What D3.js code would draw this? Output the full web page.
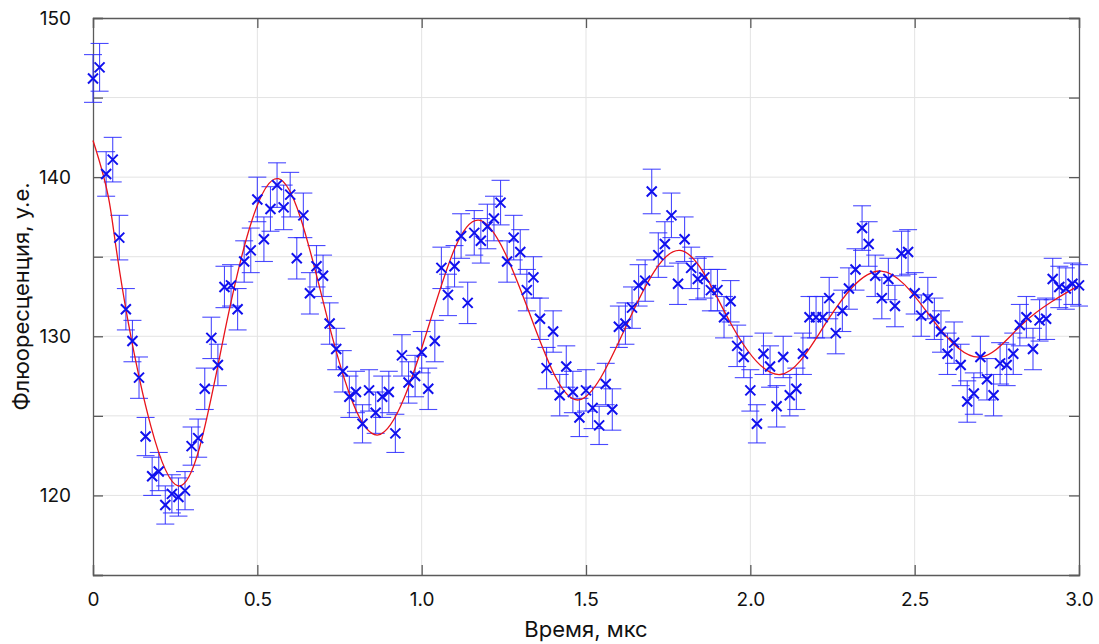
<!DOCTYPE html>
<html>
<head>
<meta charset="utf-8">
<script src="https://cdn.jsdelivr.net/npm/d3@7"></script>
<style>
  body { margin: 0; background: #fff; }
  svg { font-family: Inter, Roboto, "Noto Sans", sans-serif; }
</style>
</head>
<body>
<svg id="chart" width="1099" height="644"></svg>
<script>
// measured points (time in us, fluorescence in a.u.)
var times = [
  0.00, 0.02, 0.04, 0.06, 0.08, 0.10, 0.12, 0.14, 0.16, 0.18,
  0.20, 0.22, 0.24, 0.26, 0.28, 0.30, 0.32, 0.34, 0.36, 0.38,
  0.40, 0.42, 0.44, 0.46, 0.48, 0.50, 0.52, 0.54, 0.56, 0.58,
  0.60, 0.62, 0.64, 0.66, 0.68, 0.70, 0.72, 0.74, 0.76, 0.78,
  0.80, 0.82, 0.84, 0.86, 0.88, 0.90, 0.92, 0.94, 0.96, 0.98,
  1.00, 1.02, 1.04, 1.06, 1.08, 1.10, 1.12, 1.14, 1.16, 1.18,
  1.20, 1.22, 1.24, 1.26, 1.28, 1.30, 1.32, 1.34, 1.36, 1.38,
  1.40, 1.42, 1.44, 1.46, 1.48, 1.50, 1.52, 1.54, 1.56, 1.58,
  1.60, 1.62, 1.64, 1.66, 1.68, 1.70, 1.72, 1.74, 1.76, 1.78,
  1.80, 1.82, 1.84, 1.86, 1.88, 1.90, 1.92, 1.94, 1.96, 1.98,
  2.00, 2.02, 2.04, 2.06, 2.08, 2.10, 2.12, 2.14, 2.16, 2.18,
  2.20, 2.22, 2.24, 2.26, 2.28, 2.30, 2.32, 2.34, 2.36, 2.38,
  2.40, 2.42, 2.44, 2.46, 2.48, 2.50, 2.52, 2.54, 2.56, 2.58,
  2.60, 2.62, 2.64, 2.66, 2.68, 2.70, 2.72, 2.74, 2.76, 2.78,
  2.80, 2.82, 2.84, 2.86, 2.88, 2.90, 2.92, 2.94, 2.96, 2.98,
  3.00
];
var signal = [
  146.2, 146.9, 140.2, 141.1, 136.2, 131.7, 129.7, 127.4, 123.7, 121.2,
  121.5, 119.4, 120.1, 119.9, 120.3, 123.1, 123.6, 126.7, 129.9, 128.2,
  133.1, 133.2, 131.7, 134.7, 135.4, 138.6, 136.1, 138.0, 139.5, 138.1,
  138.9, 134.9, 137.6, 132.7, 134.4, 133.8, 130.8, 129.2, 127.8, 126.2,
  126.5, 124.5, 126.6, 125.2, 126.2, 126.5, 123.9, 128.8, 127.1, 127.5,
  129.0, 126.7, 129.7, 134.3, 132.6, 134.4, 136.3, 132.1, 136.5, 136.0,
  136.9, 137.4, 138.4, 134.7, 136.2, 135.3, 132.9, 133.7, 131.1, 128.0,
  130.3, 126.3, 128.1, 126.5, 124.9, 126.6, 125.5, 124.4, 127.0, 125.4,
  130.6, 130.8, 131.8, 133.2, 133.5, 139.1, 135.1, 135.8, 137.6, 133.3,
  136.1, 134.3, 133.6, 133.7, 132.9, 132.9, 131.2, 132.2, 129.4, 128.7,
  126.6, 124.5, 128.9, 128.1, 125.6, 128.7, 126.3, 126.7, 128.9, 131.2,
  131.2, 131.2, 132.4, 130.2, 131.6, 133.0, 134.2, 136.8, 135.8, 133.8,
  132.4, 133.6, 131.9, 135.2, 135.3, 132.7, 131.3, 132.4, 131.1, 130.3,
  128.9, 129.6, 128.2, 125.9, 126.4, 128.7, 127.3, 126.3, 128.3, 128.2,
  128.9, 130.7, 131.2, 129.2, 131.0, 131.1, 133.6, 133.1, 133.0, 133.3,
  133.2
];
var errors = [
  1.5, 1.5, 1.4, 1.4, 1.4, 1.3, 1.3, 1.3, 1.2, 1.2,
  1.2, 1.2, 1.2, 1.2, 1.2, 1.2, 1.2, 1.3, 1.3, 1.3,
  1.3, 1.3, 1.3, 1.3, 1.4, 1.4, 1.4, 1.4, 1.4, 1.4,
  1.4, 1.3, 1.4, 1.3, 1.3, 1.3, 1.3, 1.3, 1.3, 1.3,
  1.3, 1.2, 1.3, 1.3, 1.3, 1.3, 1.2, 1.3, 1.3, 1.3,
  1.3, 1.3, 1.3, 1.3, 1.3, 1.3, 1.4, 1.3, 1.4, 1.4,
  1.4, 1.4, 1.4, 1.3, 1.4, 1.4, 1.3, 1.3, 1.3, 1.3,
  1.3, 1.3, 1.3, 1.3, 1.2, 1.3, 1.3, 1.2, 1.3, 1.3,
  1.3, 1.3, 1.3, 1.3, 1.3, 1.4, 1.4, 1.4, 1.4, 1.3,
  1.4, 1.3, 1.3, 1.3, 1.3, 1.3, 1.3, 1.3, 1.3, 1.3,
  1.3, 1.2, 1.3, 1.3, 1.3, 1.3, 1.3, 1.3, 1.3, 1.3,
  1.3, 1.3, 1.3, 1.3, 1.3, 1.3, 1.3, 1.4, 1.4, 1.3,
  1.3, 1.3, 1.3, 1.4, 1.4, 1.3, 1.3, 1.3, 1.3, 1.3,
  1.3, 1.3, 1.3, 1.3, 1.3, 1.3, 1.3, 1.3, 1.3, 1.3,
  1.3, 1.3, 1.3, 1.3, 1.3, 1.3, 1.3, 1.3, 1.3, 1.3,
  1.3
];

// fitted curve, read at extrema and mid-line crossings
var fitTimes = [0, 0.05, 0.107, 0.259, 0.407, 0.564, 0.716, 0.868, 1.025, 1.174,
                1.338, 1.478, 1.628, 1.786, 1.938, 2.091, 2.232, 2.398, 2.560, 2.701,
                2.835, 3.0];
var fitValues = [142.3, 138.4, 130.9, 120.6, 130.9, 139.9, 130.9, 123.8, 130.9, 137.3,
                 130.9, 126.0, 130.9, 135.4, 130.9, 127.6, 130.9, 134.1, 130.9, 128.7,
                 130.9, 133.2];

var xTicks = [0, 0.5, 1.0, 1.5, 2.0, 2.5, 3.0];
var yGrid = [115, 120, 125, 130, 135, 140, 145, 150];
var yLabels = [120, 130, 140, 150];

var svg = d3.select("#chart");
var plotLeft = 93, plotRight = 1079, plotTop = 18, plotBottom = 575;

var x = d3.scaleLinear().domain([0, 3]).range([plotLeft, plotRight]);
var y = d3.scaleLinear().domain([115, 150]).range([plotBottom, plotTop]);

// grid
var grid = svg.append("g").attr("class", "grid");
grid.selectAll("line.vx")
    .data(xTicks.slice(1, -1))
    .enter().append("line")
    .attr("x1", function(d) { return x(d); }).attr("x2", function(d) { return x(d); })
    .attr("y1", plotTop).attr("y2", plotBottom)
    .attr("stroke", "#e3e3e3").attr("stroke-width", 1);
grid.selectAll("line.hy")
    .data(yGrid.slice(1, -1))
    .enter().append("line")
    .attr("x1", plotLeft).attr("x2", plotRight)
    .attr("y1", function(d) { return y(d); }).attr("y2", function(d) { return y(d); })
    .attr("stroke", "#e3e3e3").attr("stroke-width", 1);

// axes with inward ticks on all four sides
var fmtX = function(d) { return d === 0 ? "0" : d3.format(".1f")(d); };
var tickLen = 10;

var xBottom = svg.append("g").attr("transform", "translate(0," + plotBottom + ")")
    .call(d3.axisBottom(x).tickValues(xTicks).tickSize(-tickLen).tickPadding(tickLen + 8).tickFormat(fmtX));
var xTop = svg.append("g").attr("transform", "translate(0," + plotTop + ")")
    .call(d3.axisTop(x).tickValues(xTicks).tickSize(-tickLen).tickFormat(""));
var yLeft = svg.append("g").attr("transform", "translate(" + plotLeft + ",0)")
    .call(d3.axisLeft(y).tickValues(yGrid).tickSize(-tickLen).tickPadding(tickLen + 12)
        .tickFormat(function(d) { return yLabels.indexOf(d) >= 0 ? d : ""; }));
var yRight = svg.append("g").attr("transform", "translate(" + plotRight + ",0)")
    .call(d3.axisRight(y).tickValues(yGrid).tickSize(-tickLen).tickFormat(""));

[xBottom, xTop, yLeft, yRight].forEach(function(g) {
    g.select(".domain").attr("stroke", "#5a5a5a").attr("stroke-width", 1.3);
    g.selectAll(".tick line").attr("stroke", "#5a5a5a").attr("stroke-width", 1.3);
    g.selectAll(".tick text").attr("fill", "#111").style("font-size", "19px")
        .style("font-family", "Inter, Roboto, sans-serif");
});

// error bars
var bars = svg.append("g").attr("class", "errorbars")
    .attr("stroke", "#2a2aff").attr("stroke-width", 1.1).attr("stroke-opacity", 0.85);
var capHalf = 9;
times.forEach(function(t, i) {
    var cx = x(t), lo = y(signal[i] - errors[i]), hi = y(signal[i] + errors[i]);
    bars.append("line").attr("x1", cx).attr("x2", cx).attr("y1", lo).attr("y2", hi);
    bars.append("line").attr("x1", cx - capHalf).attr("x2", cx + capHalf).attr("y1", lo).attr("y2", lo);
    bars.append("line").attr("x1", cx - capHalf).attr("x2", cx + capHalf).attr("y1", hi).attr("y2", hi);
});

// fit curve
var fit = d3.line()
    .x(function(d) { return x(d[0]); })
    .y(function(d) { return y(d[1]); })
    .curve(d3.curveNatural);
svg.append("path")
    .datum(fitTimes.map(function(t, i) { return [t, fitValues[i]]; }))
    .attr("d", fit)
    .attr("fill", "none")
    .attr("stroke", "#e8141b")
    .attr("stroke-width", 1.3);

// x markers
var m = 5;
var marks = svg.append("g").attr("class", "markers").attr("stroke", "#1010ee").attr("stroke-width", 2);
times.forEach(function(t, i) {
    var cx = x(t), cy = y(signal[i]);
    marks.append("path")
        .attr("d", "M" + (cx - m) + "," + (cy - m) + "L" + (cx + m) + "," + (cy + m) +
                   "M" + (cx - m) + "," + (cy + m) + "L" + (cx + m) + "," + (cy - m));
});

// axis titles
svg.append("text")
    .attr("x", (plotLeft + plotRight) / 2).attr("y", 637)
    .attr("text-anchor", "middle")
    .style("font-size", "22px").attr("fill", "#111")
    .text("Время, мкс");
svg.append("text")
    .attr("transform", "translate(29," + ((plotTop + plotBottom) / 2) + ") rotate(-90)")
    .attr("text-anchor", "middle")
    .style("font-size", "22px").attr("fill", "#111")
    .text("Флюоресценция, у.е.");
</script>
</body>
</html>
